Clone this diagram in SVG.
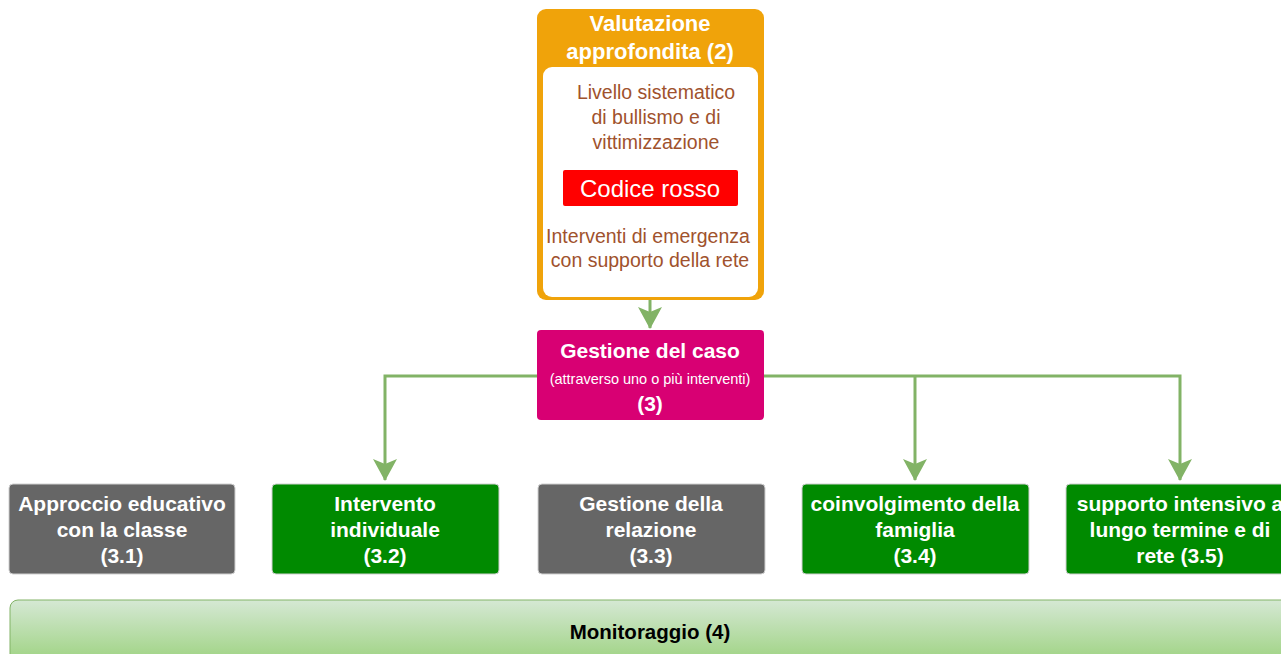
<svg xmlns="http://www.w3.org/2000/svg" width="1281" height="654" viewBox="0 0 1281 654">
<style>
text{font-family:"Liberation Sans",Arial,sans-serif;text-anchor:middle}
.w{fill:#ffffff}
.b{font-weight:bold;font-size:21px}
.h{font-weight:bold;font-size:22px}
.br{fill:#A0522D;font-size:19.5px}
.conn{fill:none;stroke:#82B366;stroke-width:3}
.grey{fill:#666666;stroke:#d0d0d0;stroke-width:1}
.green{fill:#008A00;stroke:#d0d0d0;stroke-width:1}
</style>
<defs>
<marker id="arr" markerUnits="userSpaceOnUse" markerWidth="26" markerHeight="26" viewBox="0 0 26 26" refX="21" refY="13" orient="auto">
<path d="M0,1 L22,13 L0,25 L5,13 Z" fill="#82B366"/>
</marker>
<linearGradient id="mon" x1="0" y1="0" x2="0" y2="1">
<stop offset="0" stop-color="#D5E8D4"/>
<stop offset="1" stop-color="#97D077"/>
</linearGradient>
</defs>
<g id="connectors">
<path class="conn" d="M650,300 V328" marker-end="url(#arr)"/>
<path class="conn" d="M537,376 H385 V480" marker-end="url(#arr)"/>
<path class="conn" d="M764,376 H1180 V480" marker-end="url(#arr)"/>
<path class="conn" d="M915,376 V480" marker-end="url(#arr)"/>
</g>
<g id="valutazione">
<rect x="537" y="9" width="227" height="291" rx="9" fill="#F0A30A"/>
<rect x="543" y="67" width="215" height="230" rx="9" fill="#ffffff"/>
<text class="w h" x="650" y="31">Valutazione</text>
<text class="w h" x="650" y="59">approfondita (2)</text>
<text class="br" x="656" y="99">Livello sistematico</text>
<text class="br" x="656" y="124">di bullismo e di</text>
<text class="br" x="656" y="149">vittimizzazione</text>
<rect x="563" y="170" width="175" height="36" rx="2" fill="#FF0000"/>
<text class="w" x="650" y="197" font-size="24">Codice rosso</text>
<text class="br" x="648" y="243">Interventi di emergenza</text>
<text class="br" x="650" y="267">con supporto della rete</text>
</g>
<g id="gestione">
<rect x="537" y="330" width="227" height="90" rx="4" fill="#D80073"/>
<text class="w b" x="650" y="358">Gestione del caso</text>
<text class="w" x="650" y="384" font-size="14.5">(attraverso uno o più interventi)</text>
<text class="w b" x="650" y="411" font-size="20">(3)</text>
</g>
<g id="n31">
<rect class="grey" x="9" y="484" width="226" height="90" rx="4"/>
<text class="w b" x="122" y="511">Approccio educativo</text>
<text class="w b" x="122" y="537">con la classe</text>
<text class="w b" x="122" y="563">(3.1)</text>
</g>
<g id="n32">
<rect class="green" x="272" y="484" width="227" height="90" rx="4"/>
<text class="w b" x="385" y="511">Intervento</text>
<text class="w b" x="385" y="537">individuale</text>
<text class="w b" x="385" y="563">(3.2)</text>
</g>
<g id="n33">
<rect class="grey" x="538" y="484" width="227" height="90" rx="4"/>
<text class="w b" x="651" y="511">Gestione della</text>
<text class="w b" x="651" y="537">relazione</text>
<text class="w b" x="651" y="563">(3.3)</text>
</g>
<g id="n34">
<rect class="green" x="802" y="484" width="227" height="90" rx="4"/>
<text class="w b" x="915" y="511">coinvolgimento della</text>
<text class="w b" x="915" y="537">famiglia</text>
<text class="w b" x="915" y="563">(3.4)</text>
</g>
<g id="n35">
<rect class="green" x="1066" y="484" width="227" height="90" rx="4"/>
<text class="w b" x="1180" y="511">supporto intensivo a</text>
<text class="w b" x="1180" y="537">lungo termine e di</text>
<text class="w b" x="1180" y="563">rete (3.5)</text>
</g>
<g id="monitoraggio">
<rect x="10" y="600" width="1290" height="70" rx="8" fill="url(#mon)" stroke="#82B366" stroke-width="1"/>
<text x="650" y="639" font-size="20.5" font-weight="bold" fill="#000000">Monitoraggio (4)</text>
</g>
</svg>
